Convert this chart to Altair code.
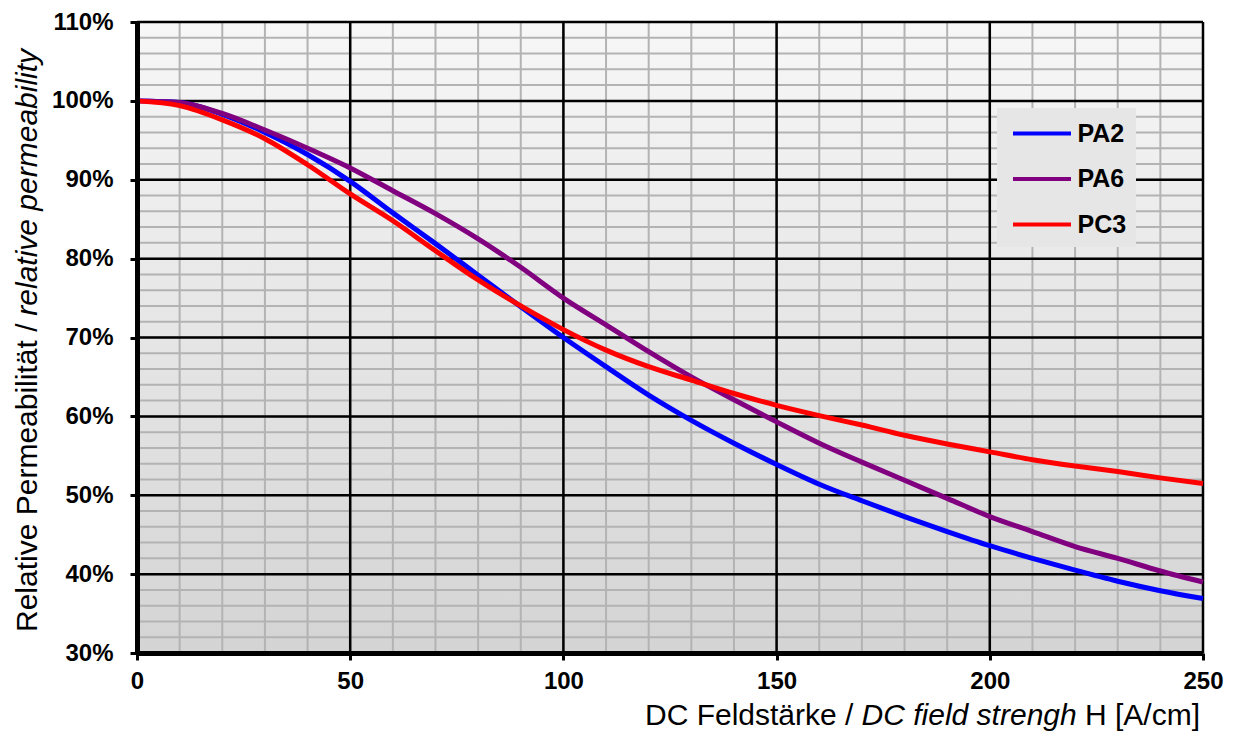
import altair as alt
import pandas as pd

# ---- data ----
h_values = [0, 10, 20, 30, 40, 50, 60, 70, 80, 90, 100, 110, 120, 130, 140, 150,
            160, 170, 180, 190, 200, 210, 220, 230, 240, 250]
pa2 = [100, 99.8, 98.3, 96.0, 93.2, 89.8, 85.8, 81.9, 77.9, 73.9, 70.0, 66.3, 62.7,
       59.5, 56.6, 53.9, 51.4, 49.3, 47.3, 45.4, 43.6, 42.0, 40.5, 39.1, 37.9, 36.9]
pa6 = [100, 99.8, 98.4, 96.3, 94.0, 91.5, 88.6, 85.7, 82.5, 78.9, 75.0, 71.6, 68.2,
       65.0, 62.1, 59.3, 56.6, 54.2, 51.9, 49.6, 47.3, 45.4, 43.5, 42.0, 40.4, 39.0]
pc3 = [100, 99.4, 97.6, 95.2, 91.9, 88.2, 84.8, 81.0, 77.3, 74.0, 71.0, 68.4, 66.3,
       64.6, 62.9, 61.4, 60.1, 58.9, 57.6, 56.5, 55.5, 54.5, 53.7, 53.0, 52.2, 51.5]
series_names = ["PA2", "PA6", "PC3"]
series_colors = ["#0000ff", "#800080", "#ff0000"]

x_major = [0, 50, 100, 150, 200, 250]
x_minor = list(range(0, 251, 10))
y_major = [0.3, 0.4, 0.5, 0.6, 0.7, 0.8, 0.9, 1.0, 1.1]
y_minor = [v / 100 for v in range(30, 111, 2)]

rows = []
for name, vals in zip(series_names, [pa2, pa6, pc3]):
    for h, v in zip(h_values, vals):
        rows.append({"H": h, "mu": v / 100.0, "series": name})
df = pd.DataFrame(rows)

W, H = 1066, 631
FONT = "Liberation Sans"

xscale = alt.Scale(domain=[0, 250], nice=False, zero=False)
yscale = alt.Scale(domain=[0.3, 1.1], nice=False, zero=False)

axis_common = dict(
    grid=False, domainColor="black", domainWidth=5, tickColor="black",
    tickWidth=3, tickSize=7, labelFont=FONT, labelFontSize=24,
    labelFontWeight="bold", labelColor="black", title=None, zindex=1,
    labelFlush=False, labelOverlap=False,
)
x_axis = alt.Axis(values=x_major, labelPadding=9, **axis_common)
y_axis = alt.Axis(values=y_major, format=".0%", labelPadding=17, **axis_common)

gradient = alt.LinearGradient(
    gradient="linear",
    stops=[alt.GradientStop(color="#f7f7f7", offset=0),
           alt.GradientStop(color="#d4d4d4", offset=1)],
    x1=0, x2=0, y1=0, y2=1,
)

bg = alt.Chart(alt.Data(values=[{}])).mark_rect(color=gradient).encode(
    x=alt.value(0), x2=alt.value(W), y=alt.value(0), y2=alt.value(H)
)

minor_x = alt.Chart(pd.DataFrame({"v": x_minor})).mark_rule(
    color="#b3b3b3", strokeWidth=2
).encode(x=alt.X("v:Q", scale=xscale, axis=x_axis))
minor_y = alt.Chart(pd.DataFrame({"v": y_minor})).mark_rule(
    color="#b3b3b3", strokeWidth=2
).encode(y=alt.Y("v:Q", scale=yscale, axis=y_axis))
major_x = alt.Chart(pd.DataFrame({"v": x_major})).mark_rule(
    color="black", strokeWidth=2.5
).encode(x=alt.X("v:Q", scale=xscale, axis=x_axis))
major_y = alt.Chart(pd.DataFrame({"v": y_major})).mark_rule(
    color="black", strokeWidth=2.5
).encode(y=alt.Y("v:Q", scale=yscale, axis=y_axis))

lines = alt.Chart(df).mark_line(strokeWidth=5, interpolate="monotone").encode(
    x=alt.X("H:Q", scale=xscale, axis=x_axis),
    y=alt.Y("mu:Q", scale=yscale, axis=y_axis),
    color=alt.Color(
        "series:N",
        scale=alt.Scale(domain=series_names, range=series_colors),
        legend=alt.Legend(
            title=None, orient="none", legendX=860, legendY=86,
            fillColor="#e6e6e6", padding=9,
            symbolType="M-2,0H2", symbolSize=841, symbolStrokeWidth=4,
            symbolOffset=19.5, labelOffset=19, rowPadding=15.5,
            labelFont=FONT, labelFontSize=25, labelFontWeight="bold",
            labelColor="black",
        ),
    ),
    order=alt.Order("series:N"),
)

def txt(text, x, y, align, angle=0, italic=False, baseline="alphabetic"):
    kw = dict(text=text, font=FONT, fontSize=30, color="black", align=align,
              baseline=baseline)
    if angle:
        kw["angle"] = angle
    if italic:
        kw["fontStyle"] = "italic"
    return alt.Chart(alt.Data(values=[{}])).mark_text(**kw).encode(
        x=alt.value(x), y=alt.value(y)
    )

# x-axis title: normal / italic / normal pieces
xt_base = 703
xt1 = txt("H [A/cm]", 1063, xt_base, "right")
xt2 = txt("DC field strengh", 1063 - 115 - 8.3, xt_base, "right", italic=True)
xt3 = txt("DC Feldstärke /", 1063 - 115 - 8.3 - 215 - 8.3, xt_base, "right")

# y-axis title (rotated)
yt_x = -100
yt1 = txt("Relative Permeabilität /", yt_x, 610, "left", angle=270)
yt2 = txt("relative permeability", yt_x, 610 - 308 - 8.3, "left", angle=270, italic=True)

chart = alt.layer(
    bg, minor_x, minor_y, major_x, major_y, lines, xt1, xt2, xt3, yt1, yt2
).properties(
    width=W, height=H,
    autosize=alt.AutoSizeParams(type="none"),
    padding={"left": 129, "top": 14, "right": 24, "bottom": 83},
).configure_view(stroke=None)

chart.save("out.html", embed_options={"renderer": "svg", "actions": False})
